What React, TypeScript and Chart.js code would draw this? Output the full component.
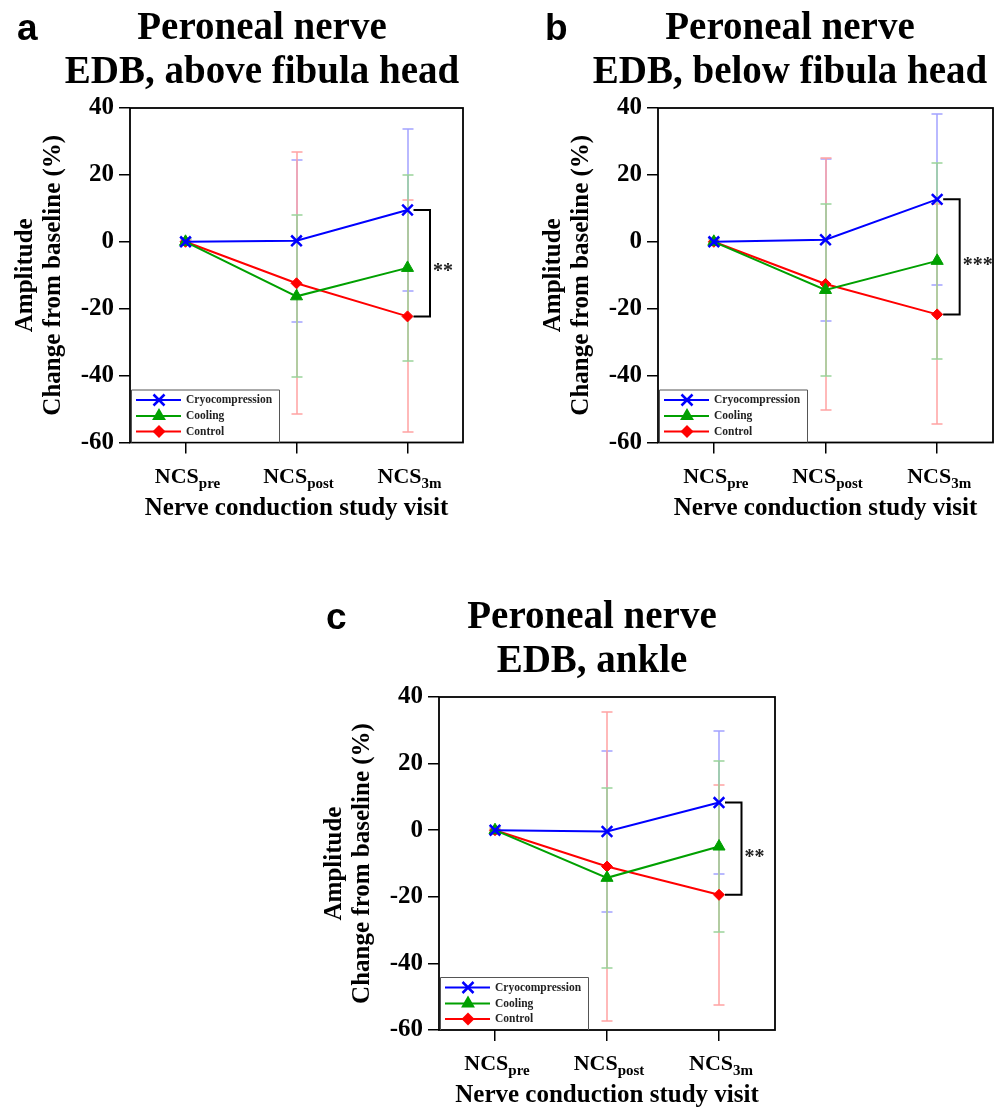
import React, { useEffect, useRef } from 'react';
import { Chart, registerables } from 'chart.js';

Chart.register(...registerables);

// ---------- shared labels / styles ----------
const visitBase = 'NCS';
const visitSubs = ['pre', 'post', '3m'];
const seriesNames = ['Cryocompression', 'Cooling', 'Control'];
const seriesColors = ['#0000ff', '#00a000', '#ff0000'];
const errColors = ['#a3a3ff', '#9ad49a', '#ffa3a3'];
const errDrawOrder = [0, 2, 1];
const pointStyles = ['crossRot', 'triangle', 'rectRot'];
const pointRadii = [7.5, 7, 5.5];
const yTickValues = [-60, -40, -20, 0, 20, 40];
const yTitleLines = ['Amplitude', 'Change from baseline (%)'];
const xTitleText = 'Nerve conduction study visit';

// ---------- panel a: above fibula head ----------
const aTitle = ['Peroneal nerve', 'EDB, above fibula head'];
const aCryo = [0, 0.3, 9.5];
const aCool = [0, -16.3, -7.8];
const aCtrl = [0, -12.4, -22.3];
const aCryoSD = [1, 24.3, 24.3];
const aCoolSD = [0.8, 24.2, 27.8];
const aCtrlSD = [0.5, 39.2, 34.7];
const aStars = '**';

// ---------- panel b: below fibula head ----------
const bTitle = ['Peroneal nerve', 'EDB, below fibula head'];
const bCryo = [0, 0.6, 12.7];
const bCool = [0, -14.4, -5.7];
const bCtrl = [0, -12.6, -21.7];
const bCryoSD = [1, 24.2, 25.5];
const bCoolSD = [0.8, 25.8, 29.2];
const bCtrlSD = [0.5, 37.8, 32.9];
const bStars = '***';

// ---------- panel c: ankle ----------
const cTitle = ['Peroneal nerve', 'EDB, ankle'];
const cCryo = [0, -0.4, 8.3];
const cCool = [0, -14.3, -4.9];
const cCtrl = [0, -10.9, -19.4];
const cCryoSD = [1, 24.3, 21.4];
const cCoolSD = [0.8, 27.1, 25.7];
const cCtrlSD = [0.5, 46.4, 33.0];
const cStars = '**';

const SERIF = "'Liberation Serif', 'Times New Roman', serif";
const SANS = "'Liberation Sans', Arial, sans-serif";

type PanelProps = {
  letter: string;
  title: string[];
  means: number[][];
  sds: number[][];
  stars: string;
  left: number; top: number; width: number; height: number;
  plotLeft: number; plotTop: number; plotW: number; plotH: number;
  titleDX: number;
};

function drawMarker(ctx: CanvasRenderingContext2D, style: string, x: number, y: number, color: string) {
  ctx.save();
  ctx.strokeStyle = color;
  ctx.fillStyle = color;
  ctx.beginPath();
  if (style === 'crossRot') {
    const r = 5.5;
    ctx.lineWidth = 2.5;
    ctx.moveTo(x - r, y - r); ctx.lineTo(x + r, y + r);
    ctx.moveTo(x + r, y - r); ctx.lineTo(x - r, y + r);
    ctx.stroke();
  } else if (style === 'triangle') {
    const r = 8;
    ctx.moveTo(x, y - r);
    ctx.lineTo(x + r * 0.866, y + r * 0.5);
    ctx.lineTo(x - r * 0.866, y + r * 0.5);
    ctx.closePath();
    ctx.fill();
  } else {
    const r = 6.5;
    ctx.moveTo(x, y - r); ctx.lineTo(x + r, y); ctx.lineTo(x, y + r); ctx.lineTo(x - r, y);
    ctx.closePath();
    ctx.fill();
  }
  ctx.restore();
}

function Panel(p: PanelProps) {
  const ref = useRef<HTMLCanvasElement | null>(null);
  useEffect(() => {
    const canvas = ref.current;
    if (!canvas) return;
    const xAxisH = p.height - p.plotTop - p.plotH;
    const xTitleOffset = xAxisH - 66; // distance from canvas bottom to title centre
    const yTitleLH = 28;
    const xTitleSize = 25;

    const plugin = {
      id: 'panelDecor' + p.letter,
      beforeDatasetsDraw(chart: any) {
        const { ctx } = chart;
        const xs = chart.scales.x;
        const ys = chart.scales.y;
        errDrawOrder.forEach((si) => {
          const ds = chart.data.datasets[si];
          ctx.save();
          ctx.strokeStyle = errColors[si];
          ctx.lineWidth = 1.5;
          ds.data.forEach((v: number, i: number) => {
            const sd = p.sds[si][i];
            const px = Math.round(xs.getPixelForValue(i));
            const t = Math.round(ys.getPixelForValue(v + sd));
            const b = Math.round(ys.getPixelForValue(v - sd));
            ctx.beginPath();
            ctx.moveTo(px, t); ctx.lineTo(px, b);
            ctx.moveTo(px - 5.5, t); ctx.lineTo(px + 5.5, t);
            ctx.moveTo(px - 5.5, b); ctx.lineTo(px + 5.5, b);
            ctx.stroke();
          });
          ctx.restore();
        });
      },
      afterDraw(chart: any) {
        const { ctx, chartArea } = chart;
        const xs = chart.scales.x;
        const ys = chart.scales.y;
        const L = chartArea.left, T = chartArea.top, R = chartArea.right, B = chartArea.bottom;
        ctx.save();
        // frame
        ctx.strokeStyle = '#000';
        ctx.lineWidth = 1.8;
        ctx.strokeRect(L, T, R - L, B - T);

        // legend
        const lgL = L + 1, lgR = L + 149, lgT = B - 53;
        ctx.fillStyle = '#fff';
        ctx.fillRect(lgL, lgT, lgR - lgL, B - lgT - 1);
        ctx.strokeStyle = '#555';
        ctx.lineWidth = 1;
        ctx.beginPath();
        ctx.moveTo(lgL + 0.5, B); ctx.lineTo(lgL + 0.5, lgT + 0.5); ctx.lineTo(lgR + 0.5, lgT + 0.5); ctx.lineTo(lgR + 0.5, B);
        ctx.stroke();
        const rowY = [B - 42.5, B - 26.5, B - 11];
        seriesNames.forEach((name, si) => {
          const ry = rowY[si];
          ctx.strokeStyle = seriesColors[si];
          ctx.lineWidth = 2;
          ctx.beginPath();
          ctx.moveTo(L + 6, ry); ctx.lineTo(L + 51, ry);
          ctx.stroke();
          drawMarker(ctx, pointStyles[si], L + 29, ry, seriesColors[si]);
          ctx.fillStyle = '#222';
          ctx.font = `bold 11.5px ${SERIF}`;
          ctx.textAlign = 'left';
          ctx.textBaseline = 'middle';
          ctx.fillText(name, L + 56, ry + 0.5);
        });

        // x tick labels with subscripts
        ctx.fillStyle = '#000';
        ctx.textBaseline = 'alphabetic';
        ctx.textAlign = 'left';
        visitSubs.forEach((sub, i) => {
          const px = xs.getPixelForValue(i);
          ctx.font = `bold 22px ${SERIF}`;
          const w1 = ctx.measureText(visitBase).width;
          ctx.font = `bold 15px ${SERIF}`;
          const w2 = ctx.measureText(sub).width;
          const x0 = px - (w1 + w2) / 2 + 2;
          const by = B + 40;
          ctx.font = `bold 22px ${SERIF}`;
          ctx.fillText(visitBase, x0, by);
          ctx.font = `bold 15px ${SERIF}`;
          ctx.fillText(sub, x0 + w1, by + 5);
        });

        // significance bracket between Cryocompression and Control at last visit
        const last = visitSubs.length - 1;
        const p3 = xs.getPixelForValue(last);
        const yTop = ys.getPixelForValue(chart.data.datasets[0].data[last]);
        const yBot = ys.getPixelForValue(chart.data.datasets[2].data[last]);
        const vx = p3 + 22.5;
        ctx.strokeStyle = '#000';
        ctx.lineWidth = 2;
        ctx.beginPath();
        ctx.moveTo(p3 + 6, yTop); ctx.lineTo(vx, yTop); ctx.lineTo(vx, yBot); ctx.lineTo(p3 + 6, yBot);
        ctx.stroke();
        ctx.fillStyle = '#222';
        ctx.font = `bold 20px ${SERIF}`;
        ctx.textBaseline = 'middle';
        ctx.fillText(p.stars, vx + 3, (yTop + yBot) / 2 + 9);

        // main title
        ctx.fillStyle = '#000';
        ctx.font = `bold 39px ${SERIF}`;
        ctx.textAlign = 'center';
        ctx.textBaseline = 'alphabetic';
        ctx.fillText(p.title[0], L + p.titleDX, T - 69.5);
        ctx.fillText(p.title[1], L + p.titleDX, T - 25);

        // panel letter
        ctx.font = `bold 37px ${SANS}`;
        ctx.textAlign = 'left';
        ctx.fillText(p.letter, L - 113, T - 68);
        ctx.restore();
      },
    };

    const chart = new Chart(canvas, {
      type: 'line',
      data: {
        labels: visitSubs.map((s) => visitBase + s),
        datasets: p.means.map((m, si) => ({
          label: seriesNames[si],
          data: m,
          borderColor: seriesColors[si],
          backgroundColor: seriesColors[si],
          pointBackgroundColor: seriesColors[si],
          pointBorderColor: seriesColors[si],
          pointStyle: pointStyles[si] as any,
          pointRadius: pointRadii[si],
          pointBorderWidth: si === 0 ? 2.5 : 1,
          borderWidth: 2,
          tension: 0,
          fill: false,
        })),
      },
      options: {
        animation: false,
        responsive: false,
        maintainAspectRatio: false,
        events: [],
        layout: {
          padding: { left: 0, top: p.plotTop, right: p.width - p.plotLeft - p.plotW, bottom: 0 },
        },
        plugins: {
          legend: { display: false },
          tooltip: { enabled: false },
          title: { display: false },
        },
        scales: {
          x: {
            type: 'category',
            offset: true,
            border: { display: false },
            grid: { drawOnChartArea: false, drawTicks: true, tickLength: 11, color: '#000', lineWidth: 1.5 },
            ticks: { display: false },
            title: {
              display: true,
              text: xTitleText,
              color: '#000',
              font: { family: SERIF, size: xTitleSize, weight: 'bold', lineHeight: 1.2 },
              padding: { top: 0, bottom: Math.max(0, xTitleOffset - xTitleSize * 0.6) },
            },
            afterFit: (scale: any) => { scale.height = xAxisH; },
          },
          y: {
            type: 'linear',
            min: -60,
            max: 40,
            border: { display: false },
            grid: { drawOnChartArea: false, drawTicks: true, tickLength: 11, color: '#000', lineWidth: 1.5 },
            afterBuildTicks: (scale: any) => { scale.ticks = yTickValues.map((v) => ({ value: v })); },
            ticks: {
              color: '#000',
              padding: 5,
              font: { family: SERIF, size: 25, weight: 'bold' },
            },
            title: {
              display: true,
              text: yTitleLines,
              color: '#000',
              font: { family: SERIF, size: 25, weight: 'bold', lineHeight: yTitleLH / 25 },
              padding: { top: p.plotLeft - 104 - yTitleLH / 2, bottom: 0 },
            },
            afterFit: (scale: any) => { scale.width = p.plotLeft; },
          },
        },
      },
      plugins: [plugin],
    } as any);
    return () => chart.destroy();
  }, []);

  return (
    <canvas
      ref={ref}
      width={p.width}
      height={p.height}
      style={{ position: 'absolute', left: p.left, top: p.top, width: p.width, height: p.height }}
    />
  );
}

export default function App() {
  return (
    <div style={{ position: 'absolute', left: 0, top: 0, width: 1005, height: 1111, background: '#fff', overflow: 'hidden' }}>
      <Panel
        letter="a" title={aTitle}
        means={[aCryo, aCool, aCtrl]} sds={[aCryoSD, aCoolSD, aCtrlSD]} stars={aStars}
        left={0} top={0} width={500} height={530}
        plotLeft={130} plotTop={108} plotW={333} plotH={334.5} titleDX={132}
      />
      <Panel
        letter="b" title={bTitle}
        means={[bCryo, bCool, bCtrl]} sds={[bCryoSD, bCoolSD, bCtrlSD]} stars={bStars}
        left={500} top={0} width={505} height={530}
        plotLeft={158} plotTop={108} plotW={335} plotH={334.5} titleDX={132}
      />
      <Panel
        letter="c" title={cTitle}
        means={[cCryo, cCool, cCtrl]} sds={[cCryoSD, cCoolSD, cCtrlSD]} stars={cStars}
        left={300} top={590} width={520} height={521}
        plotLeft={139} plotTop={107} plotW={336} plotH={333} titleDX={153}
      />
    </div>
  );
}
